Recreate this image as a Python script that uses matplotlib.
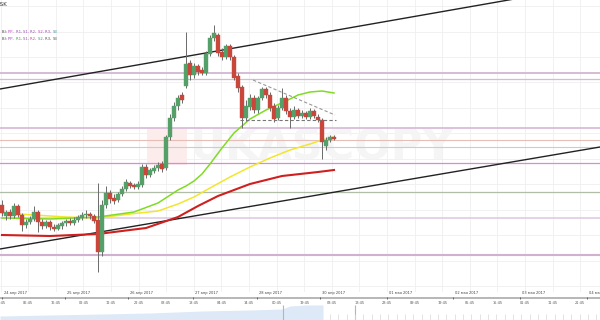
import matplotlib
matplotlib.use("Agg")
import matplotlib.pyplot as plt
from matplotlib.patches import Rectangle
import numpy as np

# ------------------------------------------------------------
# Data (price in chart units)
# ------------------------------------------------------------
opens = [95, 84, 88, 84, 94, 85, 75, 78, 81, 88, 78, 74, 78, 73, 71, 74, 77, 79, 77, 80,
         82, 85, 86, 84, 80, 48, 95, 107, 102, 100, 106, 111, 117, 115, 113, 115, 133, 125, 129, 132,
         136, 132, 163, 182, 194, 205, 214, 237, 225, 234, 230, 227, 246, 262, 265, 248, 243, 254, 243, 224,
         213, 182, 193, 202, 190, 202, 211, 205, 194, 182, 192, 202, 189, 183, 190, 184, 187, 183, 189, 183,
         180, 154, 160, 163]
closes = [87, 88, 84, 94, 85, 75, 78, 81, 88, 78, 74, 78, 73, 71, 75, 77, 79, 77, 80, 83,
          85, 86, 84, 79, 48, 95, 107, 101, 99, 106, 111, 118, 114, 113, 116, 133, 125, 130, 132, 135,
          131, 163, 182, 194, 202, 200, 236, 225, 234, 228, 227, 246, 262, 267, 247, 243, 254, 243, 222, 212,
          182, 194, 202, 190, 202, 211, 205, 192, 181, 192, 202, 189, 183, 190, 184, 187, 183, 189, 184, 180,
          158, 160, 163, 161]
highs = [100, 90, 91, 97, 96, 87, 81, 84, 94, 90, 81, 80, 80, 76, 77, 79, 81, 82, 83, 85,
         88, 90, 88, 86, 117, 100, 114, 110, 106, 108, 114, 121, 119, 117, 119, 136, 136, 132, 135, 138,
         139, 165, 186, 198, 205, 208, 268, 240, 237, 236, 233, 249, 265, 275, 267, 252, 256, 256, 245, 227,
         215, 200, 206, 205, 204, 213, 213, 208, 197, 195, 212, 205, 192, 194, 192, 190, 189, 192, 191, 186,
         182, 163, 165, 165]
lows = [84, 80, 81, 82, 83, 69, 72, 76, 79, 68, 71, 72, 70, 69, 70, 71, 74, 75, 75, 78,
        80, 82, 81, 77, 28, 44, 92, 97, 96, 98, 104, 109, 112, 111, 111, 113, 122, 123, 127, 129,
        128, 130, 160, 179, 190, 197, 212, 220, 222, 225, 225, 225, 244, 259, 244, 240, 241, 240, 220, 208,
        172, 179, 190, 187, 187, 200, 202, 189, 178, 180, 190, 186, 172, 181, 182, 182, 181, 181, 182, 178,
        141, 150, 158, 160]

# moving averages, sampled at bar index
ma_green_x = [0, 12, 24, 33, 39, 44, 46, 48, 50, 52, 55, 58, 62, 66, 71, 74, 77, 80, 83]
ma_green_y = [82, 81, 83, 88, 97, 110, 114, 119, 126, 136, 152, 167, 181, 190, 199, 205, 208, 209, 207]
ma_yellow_x = [0, 8, 16, 24, 32, 39, 44, 48, 52, 57, 62, 67, 72, 77, 80, 83]
ma_yellow_y = [87, 85, 83, 82, 86, 89, 96, 103, 112, 123, 133, 142, 150, 156, 160, 163]
ma_red_x = [0, 12, 24, 36, 44, 49, 54, 62, 70, 79, 83]
ma_red_y = [65, 64, 66, 72, 83, 94, 104, 116, 124, 128, 130]

# trend lines (start/end points)
upper_trend_x = [-0.5, 149.5]
upper_trend_y = [211, 316]
lower_trend_x = [-0.5, 149.5]
lower_trend_y = [51, 153]
flag_top_x = [62.75, 83.25]
flag_top_y = [220, 185]
flag_base_x = [59.5, 83.5]
flag_base_y = [180, 180]

# pivot levels
levels = [227, 221, 172, 160, 153, 137, 108, 82, 45]
level_colors = ["#d2b6d2", "#cdbfd0", "#d4b8d6", "#e6beb8", "#cccccc", "#dd88dd",
                "#b0bea9", "#dbc8e0", "#d0b2d0"]
level_widths = [1.3, 0.9, 1.2, 0.8, 0.8, 0.9, 0.9, 1.1, 1.5]

grid_levels = [294, 268, 243, 218, 192, 167, 141, 116, 90, 65, 39, 14]

date_pos = [0, 15.75, 31.5, 47.75, 63.75, 79.5, 96.25, 112.75, 129.5, 146.25]
date_labels = ["24 апр 2017", "25 апр 2017", "26 апр 2017", "27 апр 2017", "28 апр 2017",
               "30 апр 2017", "01 мая 2017", "02 мая 2017", "03 мая 2017", "04 мая 2017"]
time_labels = ["20:45", "06:45", "16:45", "02:45", "12:45", "22:45", "08:45", "18:45",
               "04:45", "14:45", "00:45", "19:45", "03:45", "13:45", "23:45", "09:45",
               "19:45", "05:45", "15:45", "01:45", "11:45", "21:45"]

# navigator overview strip
nav_x = [-0.5, 12, 25, 37, 50, 62, 70, 72, 76, 80.25]
nav_h = [4, 5, 6, 7, 9, 10, 11, 14, 15, 15]

legend_rows = [
    [("B): ", "#444444"), ("PP, ", "#c040c0"), ("R1, ", "#9a4fb0"), ("S1, ", "#9a4fb0"),
     ("R2, ", "#9a4fb0"), ("S2, ", "#c040c0"), ("R3, ", "#9a4fb0"), ("S3", "#3a96a8")],
    [("B): ", "#444444"), ("PP, ", "#a040c0"), ("R1, ", "#40a040"), ("S1, ", "#9a4fb0"),
     ("R2, ", "#d040a0"), ("S2, ", "#30a060"), ("R3, ", "#555555"), ("S3", "#555555")],
]

GREEN = "#55a068"
RED = "#c9463b"

# ------------------------------------------------------------
# Figure
# ------------------------------------------------------------
fig = plt.figure(figsize=(6, 3.2), dpi=100)
fig.patch.set_facecolor("white")

ax = fig.add_axes([0, 28 / 320, 1, 292 / 320])
ax.set_xlim(-0.5, 149.5)
ax.set_ylim(8, 300)
for s in ax.spines.values():
    s.set_visible(False)
time_pos = np.arange(len(time_labels)) * 6.9 - 0.35
ax.set_xticks(time_pos)
ax.set_yticks(grid_levels)
ax.tick_params(length=0, labelbottom=False, labelleft=False)
ax.grid(color="#efefef", lw=0.6, zorder=0)
ax.set_axisbelow(True)

# watermark
ax.add_patch(Rectangle((36.25, 135), 10, 37, color="#fcecec", zorder=1, lw=0))
ax.text(47, 152, "UKASCOPY", fontsize=31, fontweight="bold", color="#f5f5f5",
        va="center", ha="left", zorder=1)

for lv, c, w in zip(levels, level_colors, level_widths):
    ax.axhline(lv, color=c, lw=w, zorder=2)

ax.plot(lower_trend_x, lower_trend_y, color="#222222", lw=1.0, zorder=3)
ax.plot(upper_trend_x, upper_trend_y, color="#222222", lw=1.0, zorder=3)

ax.plot(ma_red_x, ma_red_y, color="#d01f1f", lw=1.5, zorder=4)
ax.plot(ma_yellow_x, ma_yellow_y, color="#f3e52c", lw=1.1, zorder=4)
ax.plot(ma_green_x, ma_green_y, color="#80dc22", lw=1.1, zorder=4)

# candles
idx = np.arange(len(opens))
o = np.array(opens)
c = np.array(closes)
up = c >= o
cols = np.where(up, GREEN, RED)
ax.vlines(idx, lows, highs, color="#6a6a6a", lw=0.7, zorder=5)
ax.bar(idx, np.maximum(np.abs(c - o), 1), bottom=np.minimum(o, c), width=0.8,
       color=cols, edgecolor=cols, lw=0.3, zorder=6)

ax.plot(flag_top_x, flag_top_y, color="#999999", lw=0.8, ls=(0, (3, 2)), zorder=7)
ax.plot(flag_base_x, flag_base_y, color="#777777", lw=0.8, ls=(0, (3, 2)), zorder=7)

# ------------------------------------------------------------
# Time axis + navigator strip
# ------------------------------------------------------------
ax2 = fig.add_axes([0, 0, 1, 28 / 320])
ax2.set_xlim(-0.5, 149.5)
ax2.set_ylim(0, 28)
ax2.axis("off")

ax2.fill_between(nav_x, 0, nav_h, color="#dde9f7", lw=0)
ax2.vlines([70.25, 88.25], 0, 15, color="#b5b5b5", lw=0.8)
ax2.vlines(np.arange(82, 150, 2.08), 0, 6, color="#d8d8d8", lw=0.5)

ax2.axhline(22, color="#a3a3a3", lw=1.1)
ax2.vlines(date_pos, 20.8, 23.2, color="#555555", lw=0.6)
for p, lab in zip(date_pos, date_labels):
    ax2.text(p + 0.4, 27.3, lab, fontsize=2.6, ha="left", va="center", color="#444444")
for p, lab in zip(time_pos, time_labels):
    ax2.text(p, 17, lab, fontsize=2.5, ha="center", va="center", color="#555555")

# ------------------------------------------------------------
# Header texts
# ------------------------------------------------------------
fig.text(-3 / 600, 1 - 5 / 320, "ASK", fontsize=4, va="center", ha="left", color="#333333")
for row, ypx in zip(legend_rows, [33, 40]):
    t = fig.text(2 / 600, 1 - ypx / 320, row[0][0], color=row[0][1], fontsize=2.7,
                 va="baseline", ha="left")
    for s, col in row[1:]:
        t = ax.annotate(s, xy=(1, 0), xycoords=t, color=col, fontsize=2.7,
                        va="bottom", ha="left", annotation_clip=False)

fig.savefig("out.png", dpi=100)
